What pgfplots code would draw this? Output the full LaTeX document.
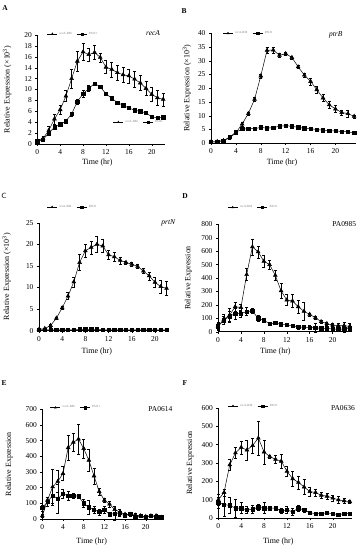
\documentclass[border=0pt]{standalone}
\usepackage{pgfplots}
\pgfplotsset{compat=1.18}
\usepackage{fontspec}
\setmainfont{Liberation Serif}
\pgfplotsset{
 panel/.style={
  scale only axis, anchor=south west, clip=false,
  axis x line*=bottom, axis y line*=left,
  axis line style={line width=0.5pt},
  tick align=outside, major tick length=2bp,
  tick style={black, line width=0.4pt},
  xtick={0,4,...,20}, xmin=0, ymin=0,
  ticklabel style={font=\fontsize{7.5}{8}\selectfont},
  /pgf/number format/assume math mode=true,
  label style={font=\fontsize{8}{9}\selectfont},
  xlabel={Time (hr)},
  legend style={draw=none, fill=none, font=\fontsize{3.2}{3.5}\selectfont, text=gray, legend columns=2, anchor=west, inner sep=0pt,
    /tikz/every even column/.style={column sep=3bp}},
  legend image code/.code={\draw[mark repeat=2,mark phase=2, mark size=1.1bp, line width=0.4pt] plot coordinates {(0bp,0bp)(5bp,0bp)(10bp,0bp)};},
  legend cell align=left,
 },
 tri/.style={black, line width=0.5pt, mark=triangle*, mark size=2.2bp, mark options={solid, fill=black},
   error bars/.cd, y dir=both, y explicit, error bar style={line width=0.4pt}, error mark options={rotate=90, mark size=1.5bp, line width=0.4pt}},
 sq/.style={black, line width=0.5pt, mark=square*, mark size=1.7bp, mark options={solid, fill=black},
   error bars/.cd, y dir=both, y explicit, error bar style={line width=0.4pt}, error mark options={rotate=90, mark size=1.5bp, line width=0.4pt}},
}
\begin{document}
\begin{tikzpicture}
\path[use as bounding box] (0,0) rectangle (363bp,-550bp);
\node[font=\bfseries\fontsize{7.5}{8}\selectfont] at (5bp,-8bp) {A};
\node[font=\bfseries\fontsize{7.5}{8}\selectfont] at (184bp,-11bp) {B};
\node[font=\sffamily\fontsize{7.5}{8}\selectfont] at (4bp,-195.7bp) {C};
\node[font=\bfseries\fontsize{7.5}{8}\selectfont] at (185bp,-195.7bp) {D};
\node[font=\bfseries\fontsize{7.5}{8}\selectfont] at (4bp,-383bp) {E};
\node[font=\bfseries\fontsize{7.5}{8}\selectfont] at (185bp,-382.7bp) {F};

% ---------------- A
\begin{axis}[panel, at={(37.3bp,-144bp)}, width=127.6bp, height=109bp,
  xmax=22.3, ymax=20, ytick={0,2,...,20},
  ylabel={Relative Expression (×10\textsuperscript{3})},
  ylabel style={at={(axis description cs:-0.237,0.5)}, anchor=center},
  xlabel style={at={(axis description cs:0.47,-0.174)}, anchor=center},
  legend style={at={(axis description cs:0.076,1.01)}}]
\addplot[tri] table[x=x,y=y,y error=e,row sep=\\] {x y e\\
0 0.5 0.3\\ 1 1.0 0.5\\ 2 2.5 0.8\\ 3 4.6 0.9\\ 4 6.3 0.8\\ 5 8.8 1.0\\ 6 12.0 1.8\\ 7 15.2 1.8\\ 8 16.9 1.6\\ 9 16.4 1.2\\ 10 16.8 1.3\\ 11 15.9 0.8\\ 12 14.1 1.2\\ 13 13.7 1.4\\ 14 13.1 1.4\\ 15 12.7 1.4\\ 16 12.5 1.3\\ 17 11.9 1.5\\ 18 11.2 1.4\\ 19 10.2 1.3\\ 20 9.1 1.3\\ 21 8.5 1.3\\ 22 8.2 1.2\\};
\addlegendentry{recA-RM}
\addplot[sq] table[x=x,y=y,y error=e,row sep=\\] {x y e\\
0 0.5 0.3\\ 1 0.8 0.3\\ 2 2.0 0.4\\ 3 3.1 0.4\\ 4 3.6 0.3\\ 5 4.2 0.3\\ 6 5.5 0.4\\ 7 7.8 0.5\\ 8 9.2 0.6\\ 9 10.2 0.6\\ 10 11.1 0.3\\ 11 10.5 0.3\\ 12 9.2 0.2\\ 13 8.4 0.2\\ 14 7.6 0.2\\ 15 7.1 0.2\\ 16 6.6 0.2\\ 17 6.2 0.2\\ 18 6.0 0.2\\ 19 5.7 0.2\\ 20 5.0 0.2\\ 21 4.8 0.2\\ 22 4.9 0.2\\};
\addlegendentry{PAO1}
\node[font=\itshape\fontsize{7.5}{8}\selectfont] at (axis description cs:0.907,1.02) {recA};
\end{axis}
\begin{axis}[panel, at={(37.3bp,-144bp)}, width=127.6bp, height=109bp, hide axis,
  xmin=0, xmax=22.3, ymin=0, ymax=20,
  legend style={at={(axis description cs:0.593,0.2)}}]
\addlegendimage{tri}\addlegendentry{recA-RM}
\addlegendimage{sq}\addlegendentry{PAO1}
\end{axis}

% ---------------- B
\begin{axis}[panel, at={(211bp,-143.3bp)}, width=145bp, height=110bp,
  xmax=23.3, ymax=40, ytick={0,5,...,40},
  ylabel={Relative Expression (×10\textsuperscript{3})},
  ylabel style={at={(axis description cs:-0.166,0.5)}, anchor=center},
  xlabel style={at={(axis description cs:0.49,-0.179)}, anchor=center},
  legend style={at={(axis description cs:0.08,1.0)}}]
\addplot[tri] table[x=x,y=y,y error=e,row sep=\\] {x y e\\
0 0.5 0.3\\ 1 0.6 0.3\\ 2 1.0 0.3\\ 3 2.0 0.5\\ 4 3.8 0.5\\ 5 7.0 0.8\\ 6 10.8 0.6\\ 7 16.0 0.6\\ 8 24.5 0.8\\ 9 33.8 1.2\\ 10 33.9 1.2\\ 11 32.0 0.6\\ 12 32.6 0.5\\ 13 31.2 0.5\\ 14 27.8 0.6\\ 15 24.8 0.8\\ 16 22.5 1.2\\ 17 19.5 1.2\\ 18 16.5 1.2\\ 19 14.0 1.2\\ 20 12.5 1.2\\ 21 11.2 1.0\\ 22 10.8 1.2\\ 23 9.8 0.6\\};
\addlegendentry{recA-RM}
\addplot[sq] table[x=x,y=y,y error=e,row sep=\\] {x y e\\
0 0.5 0.3\\ 1 0.6 0.3\\ 2 1.0 0.3\\ 3 2.3 0.8\\ 4 4.0 0.4\\ 5 5.2 0.4\\ 6 5.3 0.3\\ 7 5.3 0.3\\ 8 5.8 0.3\\ 9 5.5 0.3\\ 10 5.7 0.3\\ 11 6.2 0.3\\ 12 6.4 0.3\\ 13 6.2 0.3\\ 14 5.8 0.3\\ 15 5.5 0.3\\ 16 5.3 0.3\\ 17 5.0 0.3\\ 18 4.8 0.3\\ 19 4.6 0.3\\ 20 4.5 0.3\\ 21 4.3 0.3\\ 22 4.2 0.3\\ 23 3.8 0.3\\};
\addlegendentry{PAO1}
\node[font=\itshape\fontsize{7.5}{8}\selectfont] at (axis description cs:0.86,0.99) {ptrB};
\end{axis}

% ---------------- C
\begin{axis}[panel, at={(39bp,-330.7bp)}, width=129.3bp, height=108bp,
  xmax=22.3, ymax=25, ytick={0,5,...,25},
  ylabel={Relative Expression (×10\textsuperscript{3})},
  ylabel style={at={(axis description cs:-0.25,0.5)}, anchor=center},
  xlabel style={at={(axis description cs:0.447,-0.197)}, anchor=center},
  legend style={at={(axis description cs:0.06,1.145)}}]
\addplot[tri] table[x=x,y=y,y error=e,row sep=\\] {x y e\\
0 0.3 0.1\\ 1 0.5 0.1\\ 2 1.2 0.3\\ 3 2.9 0.3\\ 4 5.3 0.4\\ 5 8.0 0.8\\ 6 11.3 1.2\\ 7 15.8 1.8\\ 8 18.5 1.5\\ 9 19.3 1.5\\ 10 20.0 1.8\\ 11 19.6 1.5\\ 12 17.6 1.0\\ 13 17.1 1.0\\ 14 16.3 0.8\\ 15 15.8 0.4\\ 16 15.4 0.4\\ 17 14.9 0.4\\ 18 13.8 0.6\\ 19 12.7 0.9\\ 20 11.2 1.2\\ 21 10.2 1.6\\ 22 9.8 1.6\\};
\addlegendentry{recA-RM}
\addplot[sq] table[x=x,y=y,y error=e,row sep=\\] {x y e\\
0 0.2 0.05\\ 1 0.2 0.05\\ 2 0.2 0.05\\ 3 0.2 0.05\\ 4 0.2 0.05\\ 5 0.2 0.05\\ 6 0.2 0.05\\ 7 0.3 0.05\\ 8 0.3 0.05\\ 9 0.3 0.05\\ 10 0.3 0.05\\ 11 0.2 0.05\\ 12 0.2 0.05\\ 13 0.2 0.05\\ 14 0.2 0.05\\ 15 0.2 0.05\\ 16 0.2 0.05\\ 17 0.2 0.05\\ 18 0.2 0.05\\ 19 0.2 0.05\\ 20 0.2 0.05\\ 21 0.2 0.05\\ 22 0.2 0.05\\};
\addlegendentry{PAO1}
\node[font=\itshape\fontsize{7.5}{8}\selectfont] at (axis description cs:1.0,1.0) {prtN};
\end{axis}

% ---------------- D
\begin{axis}[panel, at={(218bp,-331.7bp)}, width=133.5bp, height=107.4bp,
  xmax=23.3, ymax=800, ytick={0,100,...,800},
  ylabel={Relative Expression},
  ylabel style={at={(axis description cs:-0.222,0.5)}, anchor=center},
  xlabel style={at={(axis description cs:0.43,-0.186)}, anchor=center},
  legend style={at={(axis description cs:0.07,1.158)}}]
\addplot[tri] table[x=x,y=y,y error=e,row sep=\\] {x y e\\
0 40 30\\ 1 92 35\\ 2 122 50\\ 3 186 35\\ 4 180 25\\ 5 425 45\\ 6 632 60\\ 7 595 45\\ 8 525 45\\ 9 500 35\\ 10 420 40\\ 11 305 55\\ 12 236 40\\ 13 229 50\\ 14 186 50\\ 15 152 65\\ 16 129 10\\ 17 104 10\\ 18 75 10\\ 19 60 10\\ 20 50 10\\ 21 45 20\\ 22 45 25\\ 23 40 20\\};
\addlegendentry{recA-RM}
\addplot[sq] table[x=x,y=y,y error=e,row sep=\\] {x y e\\
0 40 20\\ 1 85 30\\ 2 115 35\\ 3 135 40\\ 4 135 25\\ 5 150 30\\ 6 155 20\\ 7 100 20\\ 8 85 10\\ 9 60 10\\ 10 65 10\\ 11 55 10\\ 12 50 10\\ 13 45 10\\ 14 35 15\\ 15 35 15\\ 16 30 15\\ 17 30 30\\ 18 25 15\\ 19 25 20\\ 20 20 15\\ 21 20 15\\ 22 20 20\\ 23 25 15\\};
\addlegendentry{PAO1}
\node[font=\fontsize{7.5}{8}\selectfont] at (axis description cs:0.946,1.0) {PA0985};
\end{axis}

% ---------------- E
\begin{axis}[panel, at={(42.3bp,-519bp)}, width=120.5bp, height=109.7bp,
  xmax=23.3, ymax=700, ytick={0,100,...,700},
  ylabel={Relative Expression},
  ylabel style={at={(axis description cs:-0.274,0.5)}, anchor=center},
  xlabel style={at={(axis description cs:0.41,-0.21)}, anchor=center},
  legend style={at={(axis description cs:0.064,1.015)}}]
\addplot[tri] table[x=x,y=y,y error=e,row sep=\\] {x y e\\
0 20 10\\ 1 120 20\\ 2 205 115\\ 3 240 70\\ 4 290 45\\ 5 455 80\\ 6 490 60\\ 7 510 95\\ 8 450 60\\ 9 375 70\\ 10 275 50\\ 11 175 20\\ 12 120 10\\ 13 95 20\\ 14 60 20\\ 15 45 20\\ 16 30 10\\ 17 30 10\\ 18 25 10\\ 19 20 10\\ 20 15 10\\ 21 20 10\\ 22 20 10\\ 23 10 10\\};
\addlegendentry{recA-RM}
\addplot[sq] table[x=x,y=y,y error=e,row sep=\\] {x y e\\
0 70 20\\ 1 110 30\\ 2 150 50\\ 3 130 90\\ 4 160 30\\ 5 150 30\\ 6 150 15\\ 7 145 10\\ 8 100 25\\ 9 75 45\\ 10 60 20\\ 11 45 20\\ 12 60 20\\ 13 30 10\\ 14 35 45\\ 15 40 20\\ 16 25 10\\ 17 35 10\\ 18 15 10\\ 19 20 10\\ 20 15 10\\ 21 20 10\\ 22 15 10\\ 23 10 10\\};
\addlegendentry{PAO1}
\node[font=\fontsize{7.5}{8}\selectfont] at (axis description cs:0.98,1.0) {PA0614};
\end{axis}

% ---------------- F
\begin{axis}[panel, at={(218.3bp,-518.3bp)}, width=133.3bp, height=110.6bp,
  xmax=23.3, ymax=600, ytick={0,100,...,600},
  ylabel={Relative Expression},
  ylabel style={at={(axis description cs:-0.21,0.5)}, anchor=center},
  xlabel style={at={(axis description cs:0.45,-0.21)}, anchor=center},
  legend style={at={(axis description cs:0.07,1.015)}}]
\addplot[tri] table[x=x,y=y,y error=e,row sep=\\] {x y e\\
0 100 30\\ 1 140 20\\ 2 290 30\\ 3 355 30\\ 4 385 35\\ 5 370 55\\ 6 395 40\\ 7 435 90\\ 8 360 65\\ 9 335 10\\ 10 320 20\\ 11 310 40\\ 12 255 25\\ 13 215 40\\ 14 195 35\\ 15 170 40\\ 16 145 25\\ 17 140 20\\ 18 125 15\\ 19 120 15\\ 20 110 15\\ 21 100 20\\ 22 95 15\\ 23 90 10\\};
\addlegendentry{recA-RM}
\addplot[sq] table[x=x,y=y,y error=e,row sep=\\] {x y e\\
0 85 30\\ 1 75 65\\ 2 70 45\\ 3 55 50\\ 4 55 30\\ 5 45 20\\ 6 50 20\\ 7 60 15\\ 8 55 30\\ 9 55 10\\ 10 55 10\\ 11 40 15\\ 12 45 20\\ 13 35 20\\ 14 55 15\\ 15 45 10\\ 16 30 10\\ 17 25 10\\ 18 25 10\\ 19 30 10\\ 20 25 10\\ 21 20 10\\ 22 25 10\\ 23 25 10\\};
\addlegendentry{PAO1}
\node[font=\fontsize{7.5}{8}\selectfont] at (axis description cs:0.935,1.0) {PA0636};
\end{axis}
\end{tikzpicture}
\end{document}
